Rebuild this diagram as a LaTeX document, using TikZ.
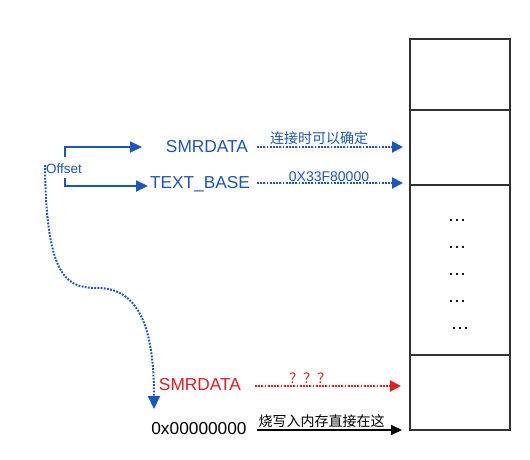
\documentclass[tikz,border=0pt]{standalone}
\usepackage{fontspec}
\setmainfont{Liberation Sans}
\newfontfamily\cjk{Noto Sans CJK SC}
\usetikzlibrary{arrows.meta}
\definecolor{myblue}{RGB}{25,85,195}
\definecolor{myred}{RGB}{235,25,25}
\definecolor{cellgray}{RGB}{50,50,50}
\begin{document}
\begin{tikzpicture}[x=1pt,y=-1pt,
  cell/.style={draw=cellgray,line width=1.6pt,minimum width=100pt,inner sep=0pt,outer sep=0pt},
  big/.style={font=\fontsize{17.3}{20}\selectfont,inner sep=0pt},
  small/.style={font=\fontsize{13.5}{16}\selectfont,inner sep=0pt},
  lab/.style={font=\cjk\fontsize{14}{16}\selectfont,inner sep=0pt},
  elbow/.style={draw=myblue,line width=2pt,-{Triangle[length=12pt,width=11pt]}},
  dotarrow/.style={line width=2pt,dash pattern=on 1.8pt off 1.4pt,-{Triangle[length=11pt,width=11pt]}},
  solidarrow/.style={draw=black,line width=1.8pt,-{Triangle[length=11pt,width=10pt]}},
  dots/.style={font=\fontsize{19}{20}\selectfont,inner sep=0pt}]
\useasboundingbox (0,0) rectangle (530,460);
% memory column
\node[cell,minimum height=71pt]  (c1) at (460,74.5) {};
\node[cell,minimum height=75pt]  (c2) at (460,147.5) {};
\node[cell,minimum height=170pt] (c3) at (460,270) {};
\node[cell,minimum height=75pt]  (c4) at (460,392.5) {};
\node[dots] (d1) at (457,220) {…};
\node[dots] (d2) at (457,247) {…};
\node[dots] (d3) at (457,274) {…};
\node[dots] (d4) at (457,301) {…};
\node[dots] (d5) at (460,328) {…};
% texts
\node[big,text=myblue] (smr1) at (207,147) {SMRDATA};
\node[big,text=myblue] (tb) at (200,184) {TEXT\_BASE};
\node[small,text=myblue] (off) at (64,169) {Offset};
\node[big,text=myred] (smr2) at (200,385) {SMRDATA};
\node[big,text=black] (zero) at (199,429) {0x00000000};
% coordinates
\coordinate (o1) at (65,157);
\coordinate (o2) at (65,178);
\coordinate (e1) at (142,147);
\coordinate (e2) at (148,186);
\coordinate (s1) at (257,147);
\coordinate (t1) at (403,147);
\coordinate (s2) at (257,183);
\coordinate (t2) at (403,183);
\coordinate (s3) at (255,386);
\coordinate (t3) at (401,386);
\coordinate (s4) at (257,430);
\coordinate (t4) at (402,430);
\coordinate (cs) at (45,165);
\coordinate (cm) at (100,288);
\coordinate (ce) at (154,409);
% elbows
\draw[elbow] (o1) |- (e1);
\draw[elbow] (o2) |- (e2);
% dotted arrows
\draw[dotarrow,draw=myblue,fill=myblue] (s1) -- node[lab,text=myblue,above=1pt,xshift=-11pt] (l1) {连接时可以确定} (t1);
\draw[dotarrow,draw=myblue,fill=myblue] (s2) -- node[font=\fontsize{14}{16}\selectfont,inner sep=0pt,text=myblue,above=0pt,xshift=-1pt] (l2) {0X33F80000} (t2);
\draw[dotarrow,draw=myred,fill=myred] (s3) -- node[lab,text=myred,above=1pt,xshift=-18pt] (l3) {？？？} (t3);
\draw[solidarrow] (s4) -- node[lab,above=1pt,xshift=-8pt] (l4) {烧写入内存直接在这} (t4);
% curve
\draw[dotarrow,draw=myblue,-{Triangle[length=13pt,width=12pt]}] (cs) .. controls (46,285) and (70,288) .. (cm) .. controls (140,290) and (154,330) .. (ce);
\end{tikzpicture}
\end{document}
